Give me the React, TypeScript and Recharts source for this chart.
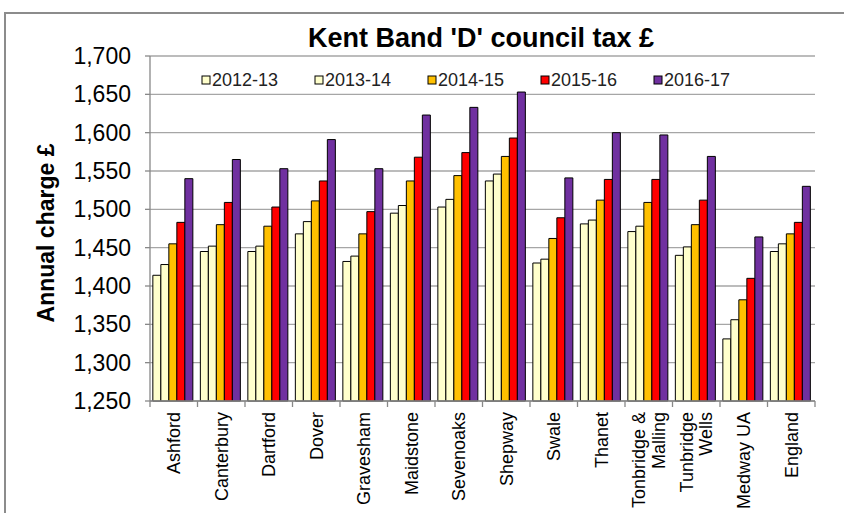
import { Bar, BarChart, CartesianGrid, XAxis, YAxis } from "recharts";

const categories = [
  "Ashford",
  "Canterbury",
  "Dartford",
  "Dover",
  "Gravesham",
  "Maidstone",
  "Sevenoaks",
  "Shepway",
  "Swale",
  "Thanet",
  "Tonbridge &\nMalling",
  "Tunbridge\nWells",
  "Medway UA",
  "England",
];

const seriesNames = ["2012-13", "2013-14", "2014-15", "2015-16", "2016-17"];
const seriesColors = ["#FFFFCC", "#FFFFCC", "#FFC000", "#FF0000", "#7030A0"];

const v2012 = [1414, 1445, 1445, 1468, 1432, 1495, 1503, 1537, 1430, 1481, 1471, 1440, 1331, 1445];
const v2013 = [1428, 1452, 1452, 1484, 1439, 1505, 1513, 1546, 1435, 1486, 1478, 1451, 1356, 1455];
const v2014 = [1455, 1480, 1478, 1511, 1468, 1537, 1544, 1569, 1462, 1512, 1509, 1480, 1382, 1468];
const v2015 = [1483, 1509, 1503, 1537, 1497, 1568, 1574, 1593, 1489, 1539, 1539, 1512, 1410, 1483];
const v2016 = [1540, 1565, 1553, 1591, 1553, 1623, 1633, 1653, 1541, 1600, 1597, 1569, 1464, 1530];

const yTicks = [1250, 1300, 1350, 1400, 1450, 1500, 1550, 1600, 1650, 1700];

const seriesValues = [v2012, v2013, v2014, v2015, v2016];

const data = categories.map((name, i) => {
  const row: Record<string, string | number> = { name };
  seriesNames.forEach((s, k) => {
    row[s] = seriesValues[k][i];
  });
  return row;
});

const font = "'Liberation Sans', Arial, sans-serif";
const W = 844;
const H = 513;
const M = { top: 56, right: 29, left: 0, bottom: 0 };
const Y_W = 150;
const X_H = 112;
const half = (W - Y_W - M.right) / categories.length / 2;
const fmt = new Intl.NumberFormat("en-US");

function XTick(props: any) {
  const { x, y, payload, index } = props;
  const lines = String(payload.value).split("\n");
  const axisY = y - 10;
  return (
    <g>
      <line x1={x - half} x2={x - half} y1={axisY} y2={axisY + 6} stroke="#888" strokeWidth={1.3} />
      {index === categories.length - 1 && (
        <line x1={x + half} x2={x + half} y1={axisY} y2={axisY + 6} stroke="#888" strokeWidth={1.3} />
      )}
      <text
        transform={`translate(${x},${y + 1}) rotate(-90)`}
        textAnchor="end"
        fontFamily={font}
        fontSize={18}
        fill="#000"
      >
        {lines.map((l, i) => (
          <tspan key={i} x={0} dy={i === 0 ? `${0.35 - (lines.length - 1) * 0.55}em` : "1.1em"}>
            {l}
          </tspan>
        ))}
      </text>
    </g>
  );
}

export default function App() {
  return (
    <div style={{ position: "relative", width: W, height: H, overflow: "hidden", background: "#fff" }}>
      <style>{`body{margin:0;overflow:hidden}`}</style>
      <div style={{ position: "absolute", left: 0, top: 0 }}>
        <BarChart width={W} height={H} data={data} margin={M} barCategoryGap="6%" barGap={0}>
          <CartesianGrid vertical={false} stroke="#a6a6a6" strokeWidth={1.3} />
          <XAxis
            dataKey="name"
            height={X_H}
            interval={0}
            tickLine={false}
            tickSize={6}
            tickMargin={4}
            stroke="#888"
            strokeWidth={1.3}
            tick={<XTick />}
          />
          <YAxis
            width={Y_W}
            domain={[1250, 1700]}
            ticks={yTicks}
            tickFormatter={(v: number) => fmt.format(v)}
            tickSize={5}
            tickMargin={14}
            stroke="#888"
            strokeWidth={1.3}
            tick={{ fill: "#000", fontSize: 23, fontFamily: font }}
          />
          {seriesNames.map((s, k) => (
            <Bar
              key={s}
              dataKey={s}
              fill={seriesColors[k]}
              stroke="#000"
              strokeWidth={1}
              isAnimationActive={false}
            />
          ))}
        </BarChart>
      </div>
      <svg
        width={W}
        height={H}
        style={{ position: "absolute", left: 0, top: 0, pointerEvents: "none" }}
      >
        <path d={`M5,${H + 5} L5,13 L${W + 5},13`} fill="none" stroke="#8c8c8c" strokeWidth={2} />
        <text x={481} y={47} textAnchor="middle" fontFamily={font} fontWeight="bold" fontSize={27} fill="#000">
          Kent Band 'D' council tax £
        </text>
        <text
          transform="translate(46,233) rotate(-90)"
          textAnchor="middle"
          dominantBaseline="central"
          fontFamily={font}
          fontWeight="bold"
          fontSize={23}
          fill="#000"
        >
          Annual charge £
        </text>
        {seriesNames.map((s, k) => {
          const lx = 202 + k * 113;
          return (
            <g key={s}>
              <rect x={lx} y={76} width={8} height={8} fill={seriesColors[k]} stroke="#000" strokeWidth={1} />
              <text x={lx + 10} y={86} fontFamily={font} fontSize={18} fill="#222">
                {s}
              </text>
            </g>
          );
        })}
      </svg>
    </div>
  );
}
